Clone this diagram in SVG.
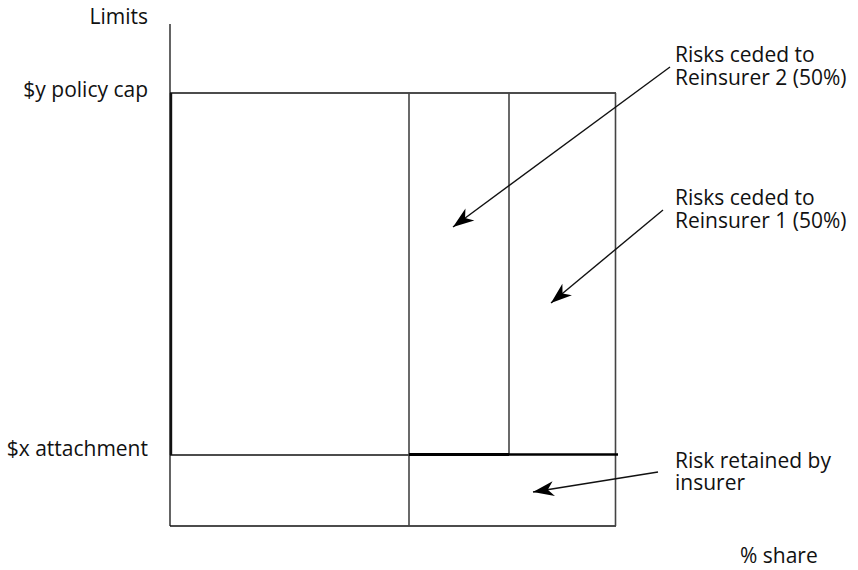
<svg xmlns="http://www.w3.org/2000/svg" width="858" height="570" viewBox="0 0 858 570">
<style>
.t{font-family:"Open Sans","Noto Sans",sans-serif;font-size:21px;fill:#111}
.r{text-anchor:end}
.ln{stroke:#111;stroke-width:1.3;fill:none}
.gr{stroke:#444;stroke-width:1.6;fill:none}
.ar{stroke:#111;stroke-width:1.4;fill:none}
</style>
<defs>
<marker id="ah" markerUnits="userSpaceOnUse" markerWidth="24" markerHeight="16" viewBox="-22 -8 24 16" refX="0" refY="0" orient="auto">
<path d="M0,0 L-21,-7.5 L-15,0 L-21,7.5 Z" fill="#000"/>
</marker>
</defs>
<rect width="858" height="570" fill="#fff"/>
<g id="axes">
<line class="ln" x1="170" y1="24" x2="170" y2="526"/>
<line class="ln" x1="170" y1="526" x2="616" y2="526"/>
<line x1="171" y1="93" x2="171" y2="455" stroke="#111" stroke-width="2.4"/>
</g>
<g id="layer-boxes">
<line class="ln" x1="170" y1="93" x2="616" y2="93"/>
<line class="ln" x1="170" y1="455" x2="409" y2="455"/>
<line class="gr" x1="409" y1="93" x2="409" y2="526"/>
<line class="gr" x1="509" y1="93" x2="509" y2="455"/>
<line class="gr" x1="615.5" y1="93" x2="615.5" y2="526"/>
<line x1="409" y1="454.5" x2="509" y2="454.5" stroke="#000" stroke-width="3"/>
<line x1="509" y1="454.5" x2="618" y2="454.5" stroke="#000" stroke-width="2.4"/>
</g>
<g id="labels">
<text class="t r" x="148" y="24">Limits</text>
<text class="t r" x="148" y="97">$y policy cap</text>
<text class="t r" x="148" y="456">$x attachment</text>
<text class="t" x="740" y="563">% share</text>
</g>
<g id="reinsurer2">
<text class="t" x="675" y="62">Risks ceded to</text>
<text class="t" x="675" y="85">Reinsurer 2 (50%)</text>
</g>
<g id="reinsurer1">
<text class="t" x="675" y="205">Risks ceded to</text>
<text class="t" x="675" y="228">Reinsurer 1 (50%)</text>
</g>
<g id="retained">
<text class="t" x="675" y="468">Risk retained by</text>
<text class="t" x="675" y="490">insurer</text>
</g>
<g id="connectors">
<line class="ar" x1="670" y1="67" x2="453" y2="227" marker-end="url(#ah)"/>
<line class="ar" x1="663" y1="210" x2="551" y2="303" marker-end="url(#ah)"/>
<line class="ar" x1="658" y1="472" x2="533" y2="492" marker-end="url(#ah)"/>
</g>
</svg>
